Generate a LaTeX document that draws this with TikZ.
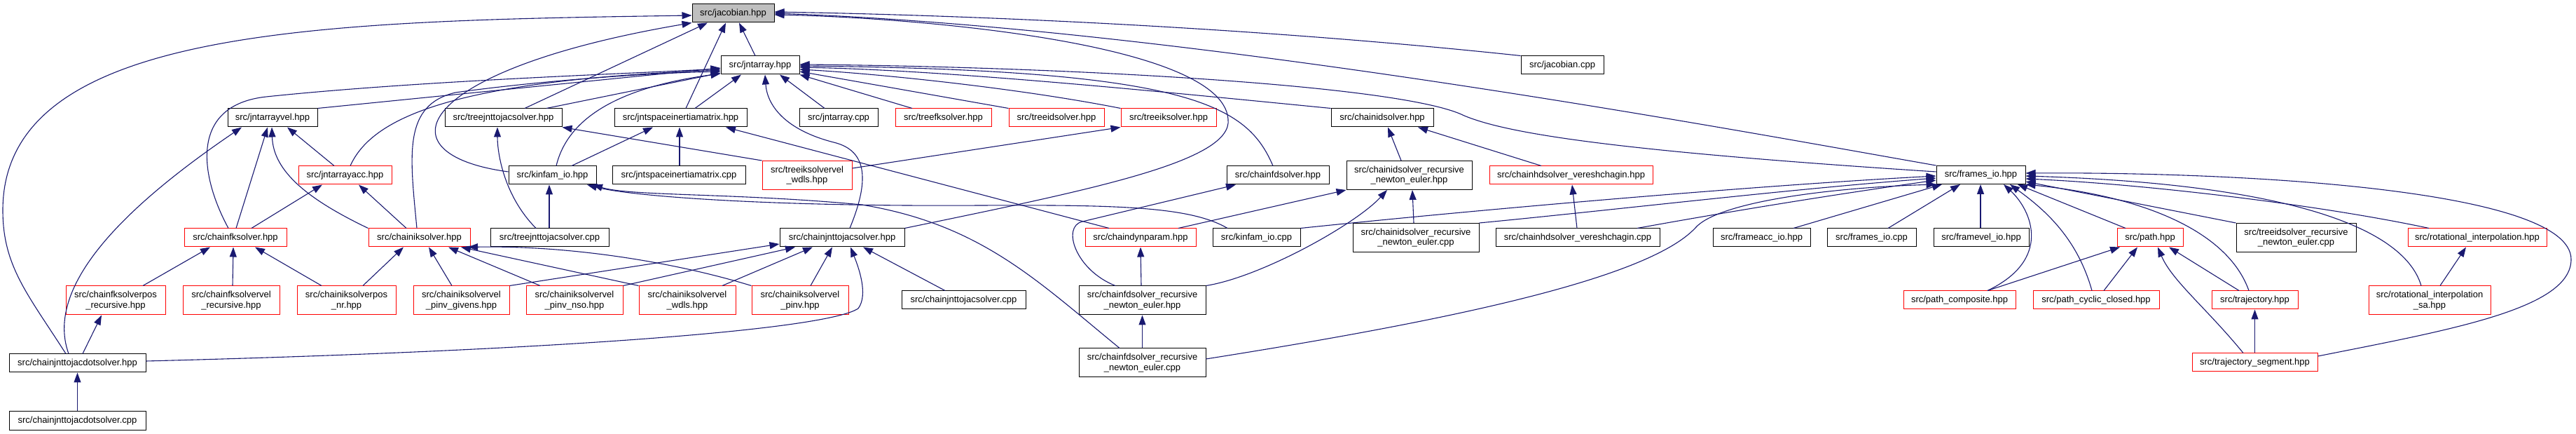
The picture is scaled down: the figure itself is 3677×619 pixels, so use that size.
\documentclass[tikz,border=0pt]{standalone}
\usepackage{fontspec}
\setmainfont{Liberation Sans}
\usetikzlibrary{arrows.meta}
\definecolor{edgeblue}{HTML}{191970}
\definecolor{jgray}{HTML}{BFBFBF}
\begin{document}
\begin{tikzpicture}[x=0.5pt,y=-0.5pt,
  nd/.style={draw=black, fill=white, line width=0.5pt, inner sep=0pt, align=center,
    font=\fontsize{6.5pt}{7.2pt}\selectfont, minimum height=13pt},
  ndr/.style={nd, draw=red},
  two/.style={minimum height=20.5pt},
  edg/.style={draw=edgeblue, line width=0.55pt, -{Triangle[length=7pt,width=5pt]}}]
\useasboundingbox (0,0) rectangle (3677,619);
% row 0
\node[nd, fill=jgray, minimum width=58.5pt] (jach) at (1046.5,19) {src/jacobian.hpp};
% row 1
\node[nd, minimum width=56pt] (jnta) at (1085,93) {src/jntarray.hpp};
\node[nd, minimum width=59pt] (jacc) at (2230,93) {src/jacobian.cpp};
% row 2
\node[nd, minimum width=64pt] (jvel) at (389,168) {src/jntarrayvel.hpp};
\node[nd, minimum width=83.5pt] (tjjh) at (718.5,168) {src/treejnttojacsolver.hpp};
\node[nd, minimum width=94.5pt] (jsimh) at (971.5,168) {src/jntspaceinertiamatrix.hpp};
\node[nd, minimum width=56pt] (jntacpp) at (1197,168) {src/jntarray.cpp};
\node[ndr, minimum width=68.5pt] (tfk) at (1346.5,168) {src/treefksolver.hpp};
\node[ndr, minimum width=68pt] (tid) at (1508,168) {src/treeidsolver.hpp};
\node[ndr, minimum width=68pt] (tik) at (1668,168) {src/treeiksolver.hpp};
\node[nd, minimum width=73pt] (cid) at (1973,168) {src/chainidsolver.hpp};
% row 3
\node[ndr, minimum width=66.5pt] (jacch) at (492.5,250) {src/jntarrayacc.hpp};
\node[nd, minimum width=62.5pt] (kio) at (788.5,250) {src/kinfam\_io.hpp};
\node[nd, minimum width=95pt] (jsimc) at (969,250) {src/jntspaceinertiamatrix.cpp};
\node[ndr, two, minimum width=64pt] (tikvw) at (1152,250) {src/treeiksolvervel\\\_wdls.hpp};
\node[nd, minimum width=73pt] (cfd) at (1824,250) {src/chainfdsolver.hpp};
\node[nd, two, minimum width=89.5pt] (cidrne) at (2011.5,250) {src/chainidsolver\_recursive\\\_newton\_euler.hpp};
\node[ndr, minimum width=116.5pt] (chdv) at (2242.5,250) {src/chainhdsolver\_vereshchagin.hpp};
\node[nd, minimum width=63.5pt] (fio) at (2827.5,249.5) {src/frames\_io.hpp};
% row 4
\node[ndr, minimum width=73pt] (cfk) at (336,339) {src/chainfksolver.hpp};
\node[ndr, minimum width=72.5pt] (cik) at (598.5,339) {src/chainiksolver.hpp};
\node[nd, minimum width=84.5pt] (tjjc) at (784.5,339) {src/treejnttojacsolver.cpp};
\node[nd, minimum width=89pt] (cjj) at (1202,339) {src/chainjnttojacsolver.hpp};
\node[ndr, minimum width=79pt] (cdp) at (1628,339) {src/chaindynparam.hpp};
\node[nd, minimum width=62.5pt] (kioc) at (1793.5,339) {src/kinfam\_io.cpp};
\node[nd, two, minimum width=90pt] (cidrnec) at (2021,339) {src/chainidsolver\_recursive\\\_newton\_euler.cpp};
\node[nd, minimum width=117pt] (chdvc) at (2252,339) {src/chainhdsolver\_vereshchagin.cpp};
\node[nd, minimum width=69.5pt] (faio) at (2514.5,339) {src/frameacc\_io.hpp};
\node[nd, minimum width=63.5pt] (fiocpp) at (2671.5,339) {src/frames\_io.cpp};
\node[nd, minimum width=68pt] (fvio) at (2828,339) {src/framevel\_io.hpp};
\node[ndr, minimum width=47pt] (path) at (3069,339) {src/path.hpp};
\node[nd, two, minimum width=85.5pt] (tidrnec) at (3277.5,339) {src/treeidsolver\_recursive\\\_newton\_euler.cpp};
\node[ndr, minimum width=99pt] (roti) at (3536,339) {src/rotational\_interpolation.hpp};
% row 5
\node[ndr, two, minimum width=71pt] (cfkpr) at (165,428.5) {src/chainfksolverpos\\\_recursive.hpp};
\node[ndr, two, minimum width=69pt] (cfkvr) at (330,428.5) {src/chainfksolvervel\\\_recursive.hpp};
\node[ndr, two, minimum width=70.5pt] (cikpnr) at (494.5,428.5) {src/chainiksolverpos\\\_nr.hpp};
\node[ndr, two, minimum width=68.5pt] (cikvpg) at (658.5,428.5) {src/chainiksolvervel\\\_pinv\_givens.hpp};
\node[ndr, two, minimum width=69pt] (cikvpn) at (820,428.5) {src/chainiksolvervel\\\_pinv\_nso.hpp};
\node[ndr, two, minimum width=69pt] (cikvw) at (981,428.5) {src/chainiksolvervel\\\_wdls.hpp};
\node[ndr, two, minimum width=69pt] (cikvp) at (1142,428.5) {src/chainiksolvervel\\\_pinv.hpp};
\node[nd, minimum width=88.5pt] (cjjc) at (1375.5,428) {src/chainjnttojacsolver.cpp};
\node[nd, two, minimum width=90.5pt] (cfdrne) at (1630.5,428.5) {src/chainfdsolver\_recursive\\\_newton\_euler.hpp};
\node[ndr, minimum width=80pt] (pcomp) at (2797,428) {src/path\_composite.hpp};
\node[ndr, minimum width=90pt] (pcyc) at (2992,428) {src/path\_cyclic\_closed.hpp};
\node[ndr, minimum width=61.5pt] (traj) at (3218.5,428) {src/trajectory.hpp};
\node[ndr, two, minimum width=87pt] (rotisa) at (3468,428.5) {src/rotational\_interpolation\\\_sa.hpp};
% row 6
\node[nd, minimum width=97.5pt] (cjjdh) at (110.5,518) {src/chainjnttojacdotsolver.hpp};
\node[nd, two, minimum width=90.5pt] (cfdrnec) at (1630.5,517.5) {src/chainfdsolver\_recursive\\\_newton\_euler.cpp};
\node[ndr, minimum width=89.5pt] (trajs) at (3218.5,517) {src/trajectory\_segment.hpp};
% row 7
\node[nd, minimum width=97.5pt] (cjjdc) at (110.5,600) {src/chainjnttojacdotsolver.cpp};

% ---- edges into jacobian.hpp
\draw[edg] (jnta.north -| 1078,0) -- (jach.south -| 1055,0);
\draw[edg] (jsimh.north -| 979,0) -- (jach.south -| 1036,0);
\draw[edg] (tjjh.north -| 749,0) -- (jach.south -| 1010,0);
\draw[edg] (kio.west |- 0,245) .. controls (540,220) and (590,100) .. (jach.south west);
\draw[edg] (cjjdh.north -| 94,0) .. controls (40,420) and (4,380) .. (4,300) .. controls (4,40) and (450,30) .. (jach.west |- 0,22);
\draw[edg] (cjj.north east) .. controls (1560,270) and (1760,230) .. (1753,170) .. controls (1745,60) and (1300,25) .. (jach.east |- 0,21);
\draw[edg] (jacc.north west) .. controls (1800,40) and (1400,22) .. (jach.east |- 0,17);
\draw[edg] (fio.north west) .. controls (2500,190) and (1700,40) .. (jach.east |- 0,19);
% ---- edges into jntarray.hpp
\draw[edg] (jvel.north east) -- (jnta.west |- 0,97);
\draw[edg] (jacch.north -| 500,0) .. controls (530,170) and (640,115) .. (jnta.west |- 0,100);
\draw[edg] (cfk.north -| 326,0) .. controls (285,250) and (270,150) .. (380,138) .. controls (600,115) and (900,105) .. (jnta.west |- 0,98);
\draw[edg] (cik.north -| 595,0) .. controls (585,220) and (575,150) .. (650,132) .. controls (750,118) and (900,105) .. (jnta.west |- 0,102);
\draw[edg] (tjjh.north -| 780,0) -- (jnta.west |- 0,104);
\draw[edg] (kio.north -| 794,0) .. controls (810,170) and (880,125) .. (jnta.west |- 0,105);
\draw[edg] (jsimh.north -| 992,0) -- (jnta.south -| 1058,0);
\draw[edg] (cjj.north -| 1213,0) .. controls (1240,260) and (1240,215) .. (1190,203) .. controls (1120,185) and (1095,150) .. (jnta.south -| 1092,0);
\draw[edg] (jntacpp.north -| 1177,0) -- (jnta.south -| 1113,0);
\draw[edg] (tfk.north -| 1302,0) -- (jnta.south east);
\draw[edg] (tid.north west) -- (jnta.east |- 0,102);
\draw[edg] (tik.north west) .. controls (1450,125) and (1250,105) .. (jnta.east |- 0,99);
\draw[edg] (cid.north west) .. controls (1650,130) and (1350,100) .. (jnta.east |- 0,96);
\draw[edg] (cfd.north -| 1817,0) .. controls (1780,150) and (1700,100) .. (jnta.east |- 0,94);
\draw[edg] (fio.west |- 0,245) .. controls (2300,215) and (2150,190) .. (2090,165) .. controls (2000,120) and (1500,95) .. (jnta.east |- 0,92);
% ---- jntarrayvel, jntarrayacc
\draw[edg] (cjjdh.north -| 98,0) .. controls (60,400) and (200,280) .. (jvel.south -| 345,0);
\draw[edg] (cfk.north -| 337,0) -- (jvel.south -| 382,0);
\draw[edg] (cik.north west) .. controls (430,280) and (390,240) .. (jvel.south -| 388,0);
\draw[edg] (jacch.north -| 477,0) -- (jvel.south -| 410,0);
\draw[edg] (cfk.north -| 359,0) -- (jacch.south -| 460,0);
\draw[edg] (cik.north -| 580,0) -- (jacch.south -| 512,0);
% ---- treejnttojacsolver.hpp, jntspaceinertiamatrix.hpp, kinfam_io.hpp
\draw[edg] (tjjc.north -| 765,0) .. controls (720,280) and (710,220) .. (tjjh.south -| 710,0);
\draw[edg] (tikvw.north west) -- (tjjh.south east);
\draw[edg] (kio.north -| 816,0) -- (jsimh.south -| 932,0);
\draw[edg] (jsimc.north -| 970,0) -- (jsimh.south -| 970,0);
\draw[edg] (cdp.north -| 1583,0) -- (jsimh.south -| 1036,0);
\draw[edg] (tjjc.north -| 784,0) -- (kio.south -| 784,0);
\draw[edg] (kioc.north -| 1752,0) .. controls (1700,295) and (1600,292) .. (1400,293) .. controls (1100,295) and (900,280) .. (kio.south -| 838,0);
\draw[edg] (cfdrnec.north -| 1598,0) .. controls (1480,400) and (1400,320) .. (1230,292) .. controls (1050,275) and (900,280) .. (kio.south -| 846,0);
% ---- chainfksolver, chainiksolver
\draw[edg] (cfkpr.north -| 204,0) -- (cfk.south -| 300,0);
\draw[edg] (cfkvr.north -| 332,0) -- (cfk.south -| 333,0);
\draw[edg] (cikpnr.north -| 459,0) -- (cfk.south -| 364,0);
\draw[edg] (cikpnr.north -| 518,0) -- (cik.south -| 576,0);
\draw[edg] (cikvpg.north -| 645,0) -- (cik.south -| 612,0);
\draw[edg] (cikvpn.north -| 771,0) -- (cik.south -| 640,0);
\draw[edg] (cikvw.north west) -- (cik.south -| 658,0);
\draw[edg] (cikvp.north west) .. controls (950,370) and (800,350) .. (cik.south -| 668,0);
% ---- chainjnttojacsolver
\draw[edg] (cikvpg.north east) -- (cjj.west |- 0,348);
\draw[edg] (cikvpn.north east) -- (cjj.south -| 1135,0);
\draw[edg] (cikvw.north -| 1031,0) -- (cjj.south -| 1160,0);
\draw[edg] (cikvp.north -| 1157,0) -- (cjj.south -| 1188,0);
\draw[edg] (cjjc.north -| 1349,0) -- (cjj.south -| 1232,0);
\draw[edg] (cjjdh.east |- 0,515) .. controls (800,500) and (1180,470) .. (1225,440) .. controls (1240,420) and (1225,380) .. (cjj.south -| 1214,0);
\draw[edg] (cjjdh.north -| 118,0) -- (cfkpr.south -| 145,0);
\draw[edg] (cjjdc) -- (cjjdh);
% ---- dynamics solvers
\draw[edg] (cidrne.north -| 2000,0) -- (cid.south -| 1981,0);
\draw[edg] (chdv.north -| 2200,0) -- (cid.south -| 2024,0);
\draw[edg] (cfdrne.north -| 1592,0) .. controls (1535,385) and (1515,323) .. (1545,316) -- (cfd.south -| 1764,0);
\draw[edg] (cdp.north -| 1682,0) -- (cidrne.south west);
\draw[edg] (cfdrne.north east) .. controls (1800,395) and (1935,320) .. (cidrne.south -| 1980,0);
\draw[edg] (cidrnec.north -| 2018,0) -- (cidrne.south -| 2016,0);
\draw[edg] (chdvc.north -| 2251,0) -- (chdv.south -| 2244,0);
\draw[edg] (cfdrne.north -| 1629,0) -- (cdp.south -| 1628,0);
\draw[edg] (cfdrnec) -- (cfdrne);
\draw[edg] (tikvw.east |- 0,240) -- (tik.south west);
% ---- frames_io.hpp
\draw[edg] (kioc.north east) .. controls (2100,300) and (2500,265) .. (fio.west |- 0,251);
\draw[edg] (cidrnec.north east) .. controls (2300,300) and (2550,270) .. (fio.west |- 0,254);
\draw[edg] (chdvc.north -| 2337,0) .. controls (2450,305) and (2600,280) .. (fio.west |- 0,257);
\draw[edg] (cfdrnec.east |- 0,512) .. controls (2050,460) and (2350,400) .. (2420,325) .. controls (2450,290) and (2600,268) .. (fio.south west);
\draw[edg] (faio.north -| 2560,0) -- (fio.south -| 2772,0);
\draw[edg] (fiocpp.north -| 2695,0) -- (fio.south -| 2798,0);
\draw[edg] (fvio.north -| 2827,0) -- (fio.south -| 2827,0);
\draw[edg] (pcomp.north -| 2837,0) .. controls (2930,370) and (2900,300) .. (fio.south -| 2860,0);
\draw[edg] (pcyc.north -| 2986,0) .. controls (2965,340) and (2920,300) .. (fio.south -| 2869,0);
\draw[edg] (path.north -| 3034,0) -- (fio.south -| 2880,0);
\draw[edg] (traj.north -| 3210,0) .. controls (3180,330) and (3060,280) .. (fio.south east);
\draw[edg] (tidrnec.north west) -- (fio.east |- 0,259);
\draw[edg] (roti.north -| 3467,0) .. controls (3300,290) and (3050,262) .. (fio.east |- 0,255);
\draw[edg] (rotisa.north -| 3456,0) .. controls (3430,320) and (3250,262) .. (fio.east |- 0,251);
\draw[edg] (trajs.east |- 0,508) .. controls (3500,470) and (3670,440) .. (3670,370) .. controls (3670,270) and (3200,245) .. (fio.east |- 0,247);
% ---- path, trajectory, rotational interpolation
\draw[edg] (pcomp.north -| 2837,0) -- (path.south -| 3026,0);
\draw[edg] (pcyc.north -| 3003,0) -- (path.south -| 3051,0);
\draw[edg] (trajs.north -| 3202,0) .. controls (3150,440) and (3100,400) .. (path.south -| 3080,0);
\draw[edg] (traj.north -| 3196,0) -- (path.south -| 3096,0);
\draw[edg] (trajs) -- (traj);
\draw[edg] (rotisa.north -| 3483,0) -- (roti.south -| 3520,0);
\end{tikzpicture}
\end{document}
